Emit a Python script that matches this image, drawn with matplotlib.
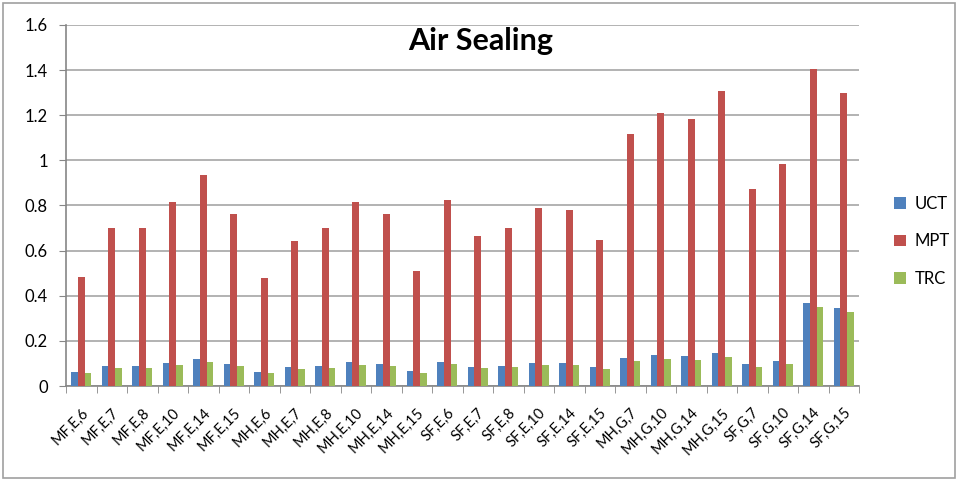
import matplotlib.pyplot as plt
import numpy as np
from matplotlib.patches import Rectangle

plt.rcParams['font.family'] = ['Lato', 'DejaVu Sans']

# categories and values
cats = ['MF,E,6', 'MF,E,7', 'MF,E,8', 'MF,E,10', 'MF,E,14', 'MF,E,15',
        'MH,E,6', 'MH,E,7', 'MH,E,8', 'MH,E,10', 'MH,E,14', 'MH,E,15',
        'SF,E,6', 'SF,E,7', 'SF,E,8', 'SF,E,10', 'SF,E,14', 'SF,E,15',
        'MH,G,7', 'MH,G,10', 'MH,G,14', 'MH,G,15',
        'SF,G,7', 'SF,G,10', 'SF,G,14', 'SF,G,15']
uct = [0.062, 0.090, 0.090, 0.103, 0.120, 0.097, 0.062, 0.083, 0.090, 0.105, 0.097, 0.066,
       0.105, 0.086, 0.090, 0.102, 0.100, 0.083, 0.126, 0.136, 0.133, 0.146,
       0.097, 0.111, 0.368, 0.344]
mpt = [0.483, 0.699, 0.700, 0.814, 0.934, 0.761, 0.480, 0.643, 0.700, 0.816, 0.761, 0.508,
       0.824, 0.665, 0.700, 0.788, 0.780, 0.647, 1.118, 1.210, 1.185, 1.308,
       0.873, 0.985, 1.405, 1.297]
trc = [0.056, 0.081, 0.081, 0.093, 0.108, 0.089, 0.056, 0.075, 0.081, 0.093, 0.089, 0.059,
       0.096, 0.078, 0.083, 0.092, 0.092, 0.077, 0.111, 0.120, 0.115, 0.128,
       0.086, 0.097, 0.350, 0.328]
series = ['UCT', 'MPT', 'TRC']
colors = ['#4F81BD', '#C0504D', '#9BBB59']

fig = plt.figure(figsize=(9.58, 4.8), dpi=100)
ax = fig.add_axes([0.0689, 0.1958, 0.8278, 0.7522])

x = np.arange(len(cats))
w = 0.22
for k, (vals, lab, c) in enumerate(zip([uct, mpt, trc], series, colors)):
    ax.bar(x + (k - 1) * w, vals, width=w, color=c, label=lab, zorder=3)

ax.set_xlim(-0.5, len(cats) - 0.5)
ax.set_ylim(0, 1.6)
yt = np.arange(0, 1.61, 0.2)
ax.set_yticks(yt)
ax.set_yticklabels(['0', '0.2', '0.4', '0.6', '0.8', '1', '1.2', '1.4', '1.6'], fontsize=12)
ax.yaxis.grid(True, color='#A6A6A6', linewidth=1.2, zorder=0)
ax.tick_params(axis='y', length=5, color='#868686', pad=8)

ax.set_xticks(x)
ax.set_xticklabels(cats, rotation=45, ha='right', rotation_mode='anchor', fontsize=10.5)
ax.tick_params(axis='x', which='major', length=0, pad=14)
ax.set_xticks(np.arange(-0.5, len(cats), 1), minor=True)
ax.tick_params(axis='x', which='minor', length=5, color='#868686')

for s in ['top', 'right']:
    ax.spines[s].set_visible(False)
for s in ['left', 'bottom']:
    ax.spines[s].set_color('#868686')
    ax.spines[s].set_linewidth(1.2)

fig.text(0.502, 0.915, 'Air Sealing', ha='center', va='center',
         fontsize=22, fontweight='bold')

fig.legend(loc='center left', bbox_to_anchor=(0.918, 0.497), frameon=False,
           fontsize=12, handlelength=0.7, handleheight=0.7, handletextpad=0.5,
           labelspacing=1.3)

fig.patches.append(Rectangle((0.003, 0.004), 0.994, 0.99, transform=fig.transFigure,
                             fill=False, edgecolor='#A0A0A0', linewidth=1.2))

fig.savefig('out.png', dpi=100)
